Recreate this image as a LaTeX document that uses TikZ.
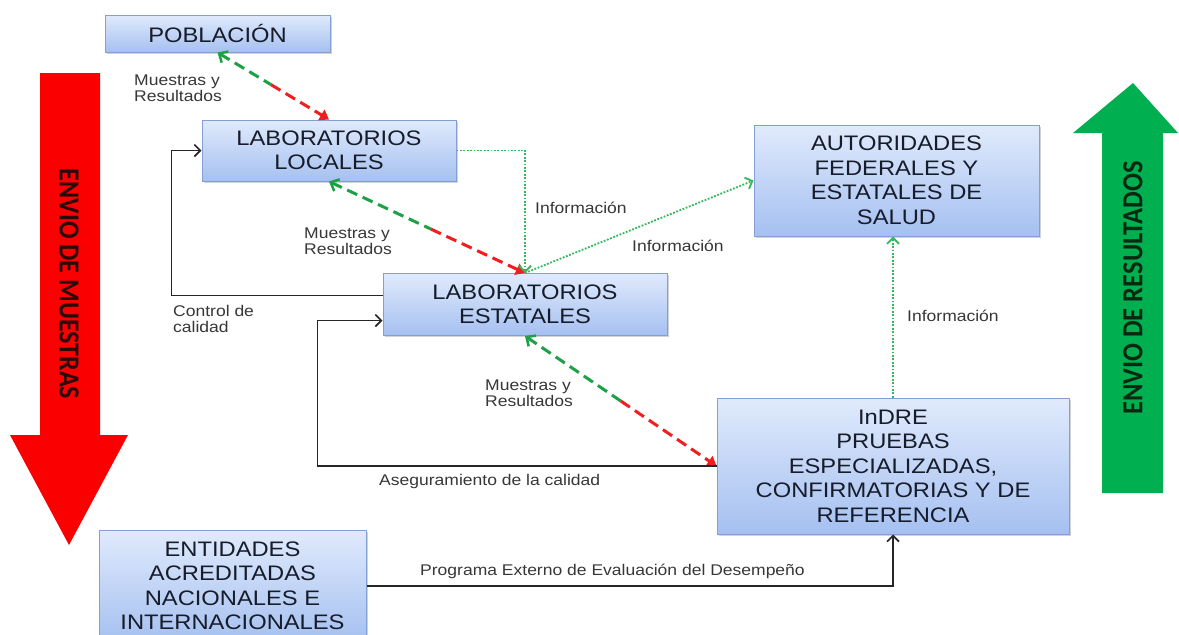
\documentclass[tikz,border=0pt]{standalone}
\usepackage{fontspec}
\setmainfont[FakeStretch=1.13]{Liberation Sans}
\newfontfamily\arrowfont{Carlito}
\usetikzlibrary{arrows.meta,calc,shadows}
\definecolor{boxtop}{RGB}{224,234,252}
\definecolor{boxbot}{RGB}{165,192,240}
\definecolor{boxline}{RGB}{130,160,212}
\definecolor{boxtext}{RGB}{22,28,42}
\definecolor{lbl}{RGB}{55,55,55}
\definecolor{gdashc}{RGB}{30,160,70}
\definecolor{rdashc}{RGB}{240,30,30}
\definecolor{dotc}{RGB}{50,185,90}
\definecolor{bigred}{RGB}{250,0,0}
\definecolor{biggreen}{RGB}{0,176,80}
\tikzset{
  box/.style={draw=boxline, line width=1pt, top color=boxtop, bottom color=boxbot,
    text=boxtext, align=center, inner sep=0pt, font=\fontsize{21}{24.5}\selectfont,
    drop shadow={shadow xshift=1.5pt, shadow yshift=-1.5pt, opacity=0.35}},
  lab/.style={text=lbl, align=left, inner sep=0pt, anchor=west, font=\fontsize{15.5}{16.5}\selectfont},
  gdash/.style={draw=gdashc, line width=3pt, dash pattern=on 11pt off 6pt,
    {Straight Barb[length=7pt,width=13pt,line width=2.5pt]}-},
  rdash/.style={draw=rdashc, line width=3pt, dash pattern=on 11pt off 6pt,
    -{Triangle[length=9pt,width=12pt]}},
  dotline/.style={draw=dotc, line width=1.8pt, dash pattern=on 1.8pt off 1.6pt,
    -{Straight Barb[length=6pt,width=12pt,line width=1.8pt]}},
  blk/.style={draw=black!85, line width=1.6pt,
    -{Straight Barb[length=6pt,width=12pt,line width=1.6pt]}},
  bigarrowtext/.style={font=\arrowfont\bfseries\fontsize{26}{26}\selectfont, inner sep=0pt}
}
\begin{document}
\begin{tikzpicture}[x=1pt,y=-1pt]
\useasboundingbox (0,0) rectangle (1179,635);
\fill[white] (0,0) rectangle (1179,635);
% big arrows
\fill[bigred] (40,73) -- (100,73) -- (100,435) -- (128,435) -- (69,545) -- (10,435) -- (40,435) -- cycle;
\node[bigarrowtext, text={rgb,255:red,45;green,8;blue,8}, rotate=-90] (envm) at (69,284) {\scalebox{1}[1.12]{ENVIO DE MUESTRAS}};
\fill[biggreen] (1102,493) -- (1163,493) -- (1163,133) -- (1178,133) -- (1133,83) -- (1073,133) -- (1102,133) -- cycle;
\node[bigarrowtext, text={rgb,255:red,8;green,40;blue,18}, rotate=90] (envr) at (1133,288) {\scalebox{1.02}[1.12]{ENVIO DE RESULTADOS}};
% boxes
\node[box, minimum width=225pt, minimum height=37pt] (pob) at (217.5,33.5) {POBLACIÓN};
\node[box, minimum width=254pt, minimum height=61pt] (loc) at (329,150.5) {LABORATORIOS\\LOCALES};
\node[box, minimum width=285pt, minimum height=111pt] (aut) at (896.5,180.5) {AUTORIDADES\\FEDERALES Y\\ESTATALES DE\\SALUD};
\node[box, minimum width=284pt, minimum height=62pt] (est) at (525,304.5) {LABORATORIOS\\ESTATALES};
\node[box, minimum width=352pt, minimum height=136pt] (ind) at (893,466) {InDRE\\PRUEBAS\\ESPECIALIZADAS,\\CONFIRMATORIAS Y DE\\REFERENCIA};
\node[box, minimum width=267pt, minimum height=112pt] (ent) at (232.5,586) {ENTIDADES\\ACREDITADAS\\NACIONALES E\\INTERNACIONALES};
% dashed two-tone connectors
\coordinate (m1) at ($(pob.south)!0.48!(loc.north)$);
\draw[gdash] (pob.south) -- (m1);
\draw[rdash] (m1) -- (loc.north);
\coordinate (m2) at ($(loc.south)!0.52!(est.north)$);
\draw[gdash] (loc.south) -- (m2);
\draw[rdash] (m2) -- (est.north);
\coordinate (m3) at ($(est.south)!0.5!(ind.west)$);
\draw[gdash] (est.south) -- (m3);
\draw[rdash] (m3) -- (ind.west);
% dotted info connectors
\draw[dotline] (loc.east) -| (est.north);
\draw[dotline] (est.north) -- (aut.west);
\draw[dotline] (ind.north) -- (ind.north |- aut.south);
% black connectors
\draw[blk] ([yshift=9pt]est.west) -- ++(-211,0) |- (loc.west);
\draw[blk] (ind.west) -- ++(-399,0) |- ([yshift=-16pt]est.west);
\draw[blk] (ent.east) -| (ind.south);
% labels
\node[lab] (l1) at (134,88) {Muestras y\\Resultados};
\node[lab] (l2) at (304,241) {Muestras y\\Resultados};
\node[lab] (l3) at (485,393) {Muestras y\\Resultados};
\node[lab] (i1) at (535,208) {Información};
\node[lab] (i2) at (632,246) {Información};
\node[lab] (i3) at (907,316) {Información};
\node[lab] (cc) at (173,319) {Control de\\calidad};
\node[lab] (ac) at (379,481) {Aseguramiento de la calidad};
\node[lab] (pe) at (420,571) {Programa Externo de Evaluación del Desempeño};
\end{tikzpicture}
\end{document}
